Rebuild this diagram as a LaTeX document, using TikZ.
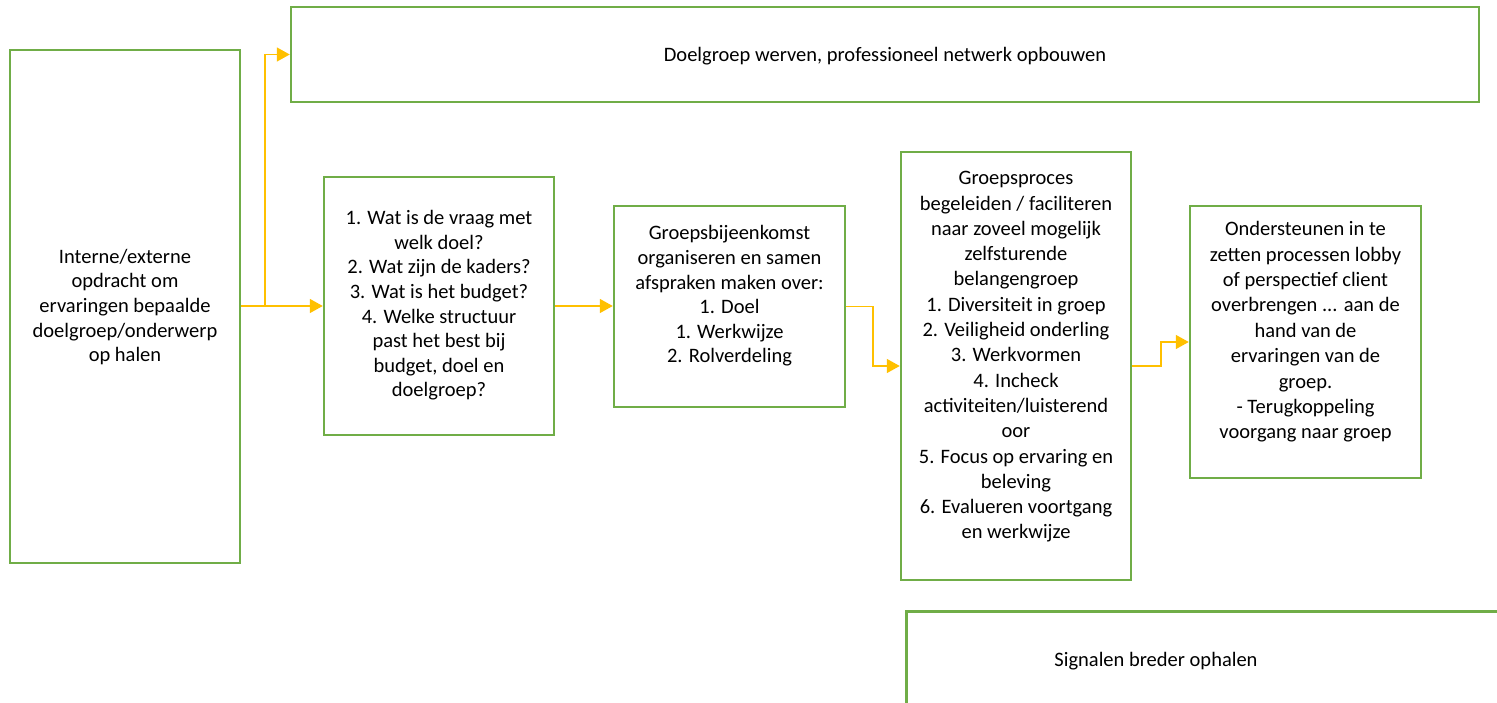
\documentclass[tikz,border=0pt]{standalone}
\usepackage{fontspec}
\setmainfont{Carlito}
\usetikzlibrary{arrows.meta}
\definecolor{boxgreen}{HTML}{70AD47}
\definecolor{arrowyellow}{HTML}{FFC000}
\tikzset{
  box/.style={draw=boxgreen, line width=2.5pt, fill=none, inner sep=0pt},
  txt/.style={align=center, inner sep=0pt, font=\fontsize{20.5pt}{24.6pt}\selectfont},
  arr/.style={draw=arrowyellow, line width=1.6pt, -{Triangle[length=13pt,width=14pt]}}
}
\begin{document}
\begin{tikzpicture}[x=1pt,y=-1pt]
\useasboundingbox (0,0) rectangle (1497,703);
\fill[white] (0,0) rectangle (1497,703);
% boxes
\node[box, minimum width=230pt, minimum height=513pt] (A) at (125,306.5) {};
\node[box, minimum width=1188pt, minimum height=95pt] (T) at (885,54.5) {};
\node[box, minimum width=230pt, minimum height=258pt] (B) at (439,306) {};
\node[box, minimum width=231pt, minimum height=201pt] (C) at (729.5,306.5) {};
\node[box, minimum width=230pt, minimum height=428pt] (D) at (1016,366) {};
\node[box, minimum width=231pt, minimum height=272pt] (E) at (1305.5,342) {};
\begin{scope}
\clip (0,0) rectangle (1497,703);
\node[box, minimum width=620pt, minimum height=120pt, anchor=north west] (S) at (905,610) {};
\end{scope}
% texts
\node[txt] (At) at (125,307) {Interne/externe\\opdracht om\\ervaringen bepaalde\\doelgroep/onderwerp\\op halen};
\node[txt] (Tt) at (885,56) {Doelgroep werven, professioneel netwerk opbouwen};
\node[txt] (Bt) at (439,305.5) {1. Wat is de vraag met\\welk doel?\\2. Wat zijn de kaders?\\3. Wat is het budget?\\4. Welke structuur\\past het best bij\\budget, doel en\\doelgroep?};
\node[txt] (Ct) at (729.5,296) {Groepsbijeenkomst\\organiseren en samen\\afspraken maken over:\\1. Doel\\1. Werkwijze\\2. Rolverdeling};
\node[txt, font=\fontsize{20.5pt}{25.3pt}\selectfont] (Dt) at (1016,357) {Groepsproces\\begeleiden / faciliteren\\naar zoveel mogelijk\\zelfsturende\\belangengroep\\1. Diversiteit in groep\\2. Veiligheid onderling\\3. Werkvormen\\4. Incheck\\activiteiten/luisterend\\oor\\5. Focus op ervaring en\\beleving\\6. Evalueren voortgang\\en werkwijze};
\node[txt, font=\fontsize{20.5pt}{25.4pt}\selectfont] (Et) at (1305.5,332) {Ondersteunen in te\\zetten processen lobby\\of perspectief client\\overbrengen ... aan de\\hand van de\\ervaringen van de\\groep.\\- Terugkoppeling\\voorgang naar groep};
\node[txt] (St) at (1156,661) {Signalen breder ophalen};
% connectors
\coordinate (j) at (265,306);
\draw[arr] (A.east |- j) -- (B.west |- j);
\draw[arr] (j) |- (T.west);
\draw[arr] (B.east) -- (C.west |- B.east);
\draw[arr] (C.east) -- ++(27,0) |- (D.west);
\draw[arr] (D.east) -- ++(29,0) |- (E.west);
\end{tikzpicture}
\end{document}
